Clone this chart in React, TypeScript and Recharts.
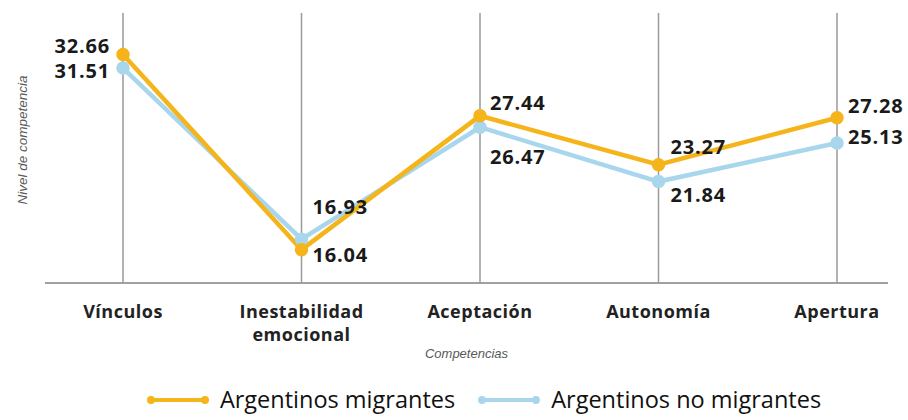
import React from 'react';
import { LineChart, Line, XAxis, YAxis, CartesianGrid, Legend, LabelList, Label, Text } from 'recharts';

const competencias = ['Vínculos', 'Inestabilidad emocional', 'Aceptación', 'Autonomía', 'Apertura'];
const migrantes = [32.66, 16.04, 27.44, 23.27, 27.28];
const noMigrantes = [31.51, 16.93, 26.47, 21.84, 25.13];
const seriesNames = ['Argentinos migrantes', 'Argentinos no migrantes'];

const ORANGE = '#F4B41A';
const BLUE = '#A8D6EC';
const FONT = '"Open Sans", sans-serif';

const data = competencias.map((c, i) => ({ name: c, mig: migrantes[i], nomig: noMigrantes[i] }));

// label placement for each point: [anchor, dx, dy]
const placeMig: [string, number, number][] = [
  ['end', -13, -9], ['start', 11, 5], ['start', 10, -13], ['start', 12, -18], ['start', 11, -12],
];
const placeNoMig: [string, number, number][] = [
  ['end', -13, 2], ['start', 11, -33], ['start', 10, 29], ['start', 12, 13], ['start', 11, -6],
];

const makeLabel = (place: [string, number, number][]) => (props: any) => {
  const { x, y, value, index } = props;
  const [anchor, dx, dy] = place[index];
  return (
    <text x={x + dx} y={y + dy} textAnchor={anchor as any} dominantBaseline="central"
      fontFamily={FONT} fontWeight={700} fontSize={20} letterSpacing={0.8} fill="#1a1a1a">
      {Number(value).toFixed(2)}
    </text>
  );
};

const CatTick = (props: any) => {
  const { x, y, payload } = props;
  return (
    <Text x={x} y={y + 14} width={140} textAnchor="middle" verticalAnchor="start" lineHeight={23}
      fontFamily={FONT} fontWeight={700} fontSize={18} letterSpacing={0.5} fill="#222">
      {payload.value}
    </Text>
  );
};

const LegendBox = () => (
  <div style={{ display: 'flex', justifyContent: 'center', alignItems: 'center', height: 50, paddingTop: 10, boxSizing: 'border-box', marginLeft: 79, fontFamily: FONT, fontSize: 23.5, lineHeight: 1, color: '#111' }}>
    {seriesNames.map((n, i) => (
      <div key={n} style={{ display: 'flex', alignItems: 'center', marginRight: i === 0 ? 22 : 0 }}>
        <svg width={64} height={12} style={{ marginRight: 10 }}>
          <line x1={5} y1={6} x2={59} y2={6} stroke={i === 0 ? ORANGE : BLUE} strokeWidth={4} />
          <circle cx={5} cy={6} r={4} fill={i === 0 ? ORANGE : BLUE} />
          <circle cx={59} cy={6} r={4} fill={i === 0 ? ORANGE : BLUE} />
        </svg>
        <span>{n}</span>
      </div>
    ))}
  </div>
);

export default function App() {
  return (
    <div style={{ position: 'absolute', left: 0, top: 0, background: '#fff' }}>
      <LineChart width={908} height={420} data={data} margin={{ top: 13, right: 20, left: 0, bottom: 0 }}>
        <CartesianGrid horizontal={false} syncWithTicks stroke="#9a9a9a" strokeWidth={1.5} />
        <XAxis dataKey="name" height={87} tickLine={false} interval={0} padding={{ left: 78, right: 51 }}
          axisLine={{ stroke: '#a0a0a0', strokeWidth: 2 }} tick={<CatTick />}>
          <Label value="Competencias" position="insideBottom" offset={12}
            style={{ fontFamily: '"Liberation Sans", sans-serif', fontStyle: 'italic', fontSize: 13, fill: '#595959' }} />
        </XAxis>
        <YAxis width={45} domain={[13.2, 36.2]} tick={false} tickLine={false} axisLine={false}>
          <Label content={() => (
            <text x={22} y={140} transform="rotate(-90 22 140)" textAnchor="middle" dominantBaseline="central"
              fontFamily='"Liberation Sans", sans-serif' fontStyle="italic" fontSize={13.5} fill="#595959">
              Nivel de competencia
            </text>
          )} />
        </YAxis>
        <Legend verticalAlign="bottom" content={<LegendBox />} wrapperStyle={{ height: 50 }} />
        <Line dataKey="nomig" name={seriesNames[1]} stroke={BLUE} strokeWidth={4.5} isAnimationActive={false}
          dot={{ r: 4.5, fill: BLUE, stroke: BLUE }} activeDot={false}>
          <LabelList dataKey="nomig" content={makeLabel(placeNoMig)} />
        </Line>
        <Line dataKey="mig" name={seriesNames[0]} stroke={ORANGE} strokeWidth={4.5} isAnimationActive={false}
          dot={{ r: 4.5, fill: ORANGE, stroke: ORANGE }} activeDot={false}>
          <LabelList dataKey="mig" content={makeLabel(placeMig)} />
        </Line>
      </LineChart>
    </div>
  );
}
